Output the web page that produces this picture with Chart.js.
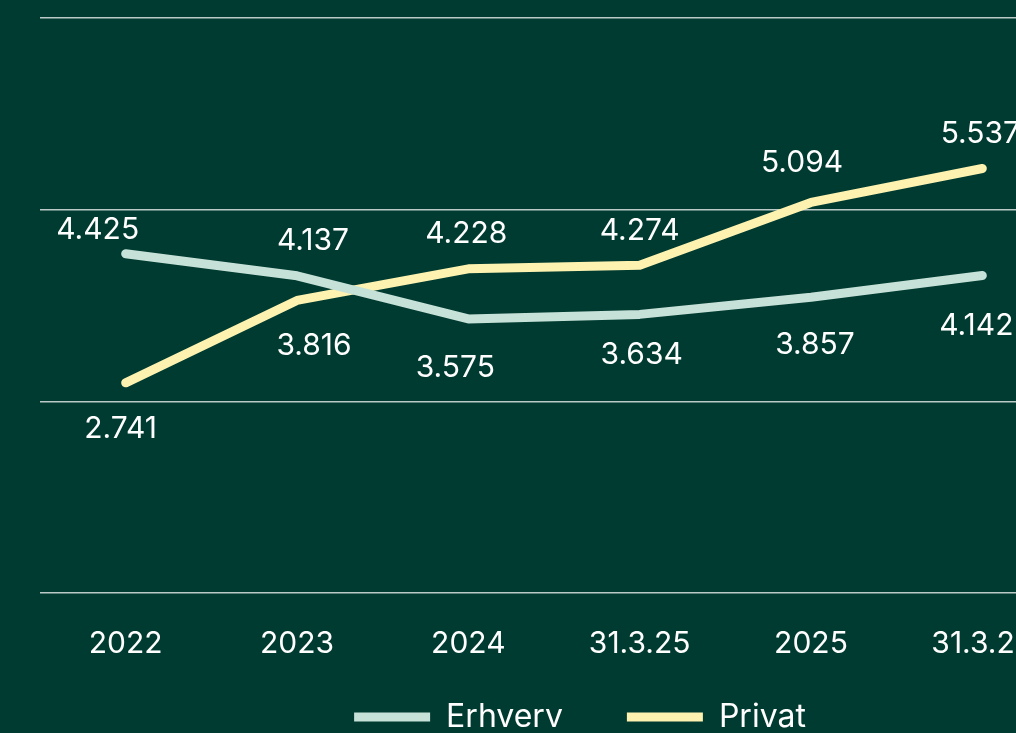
<!DOCTYPE html>
<html>
<head>
<meta charset="utf-8">
<script src="https://cdn.jsdelivr.net/npm/chart.js@4.4.1/dist/chart.umd.min.js"></script>
<style>
  html, body { margin: 0; padding: 0; background: #003b31; overflow: hidden; width: 1016px; height: 733px; }
  #wrap { position: absolute; left: 0; top: 0; width: 1160px; height: 743px; }
</style>
</head>
<body>
<div id="wrap"><canvas id="c"></canvas></div>
<script>
const categories = ['2022', '2023', '2024', '31.3.25', '2025', '31.3.26'];
const erhverv = [4.425, 4.137, 3.575, 3.634, 3.857, 4.142];
const privat  = [2.741, 3.816, 4.228, 4.274, 5.094, 5.537];
const seriesNames = ['Erhverv', 'Privat'];
const yTicks = [0, 2.5, 5, 7.5];

const FONT = 'Inter, "Noto Sans", sans-serif';
const fmt = v => v.toFixed(3);

// label nudges in pixels relative to each point (placement of value labels)
const labelNudge = [
  [[-28, -24], [16, -35], [-13, 49], [2, 41], [4, 48], [-6, 51]],
  [[-5, 46], [17, 46], [-2, -35], [0, -34], [-9, -39], [-2, -35]]
];

const labelPlugin = {
  id: 'valueLabels',
  beforeDraw(chart) {
    // let x tick labels overflow the (compact) axis box
    chart.scales.x._computeLabelArea = () => undefined;
  },
  afterDatasetsDraw(chart) {
    const ctx = chart.ctx;
    ctx.save();
    ctx.font = '30px ' + FONT;
    ctx.fillStyle = '#ffffff';
    ctx.textAlign = 'center';
    ctx.textBaseline = 'middle';
    chart.data.datasets.forEach((ds, d) => {
      const meta = chart.getDatasetMeta(d);
      ds.data.forEach((v, i) => {
        const p = meta.data[i];
        const n = labelNudge[d][i];
        ctx.fillText(fmt(v), p.x + n[0], p.y + n[1]);
      });
    });
    ctx.restore();
  }
};

new Chart(document.getElementById('c'), {
  type: 'line',
  data: {
    labels: categories,
    datasets: [
      { label: seriesNames[0], data: erhverv, borderColor: '#c6e1d7', backgroundColor: '#c6e1d7',
        borderWidth: 9, borderCapStyle: 'round', borderJoinStyle: 'round', pointRadius: 0, tension: 0 },
      { label: seriesNames[1], data: privat, borderColor: '#fdf2b0', backgroundColor: '#fdf2b0',
        borderWidth: 9, borderCapStyle: 'round', borderJoinStyle: 'round', pointRadius: 0, tension: 0 }
    ]
  },
  options: {
    responsive: true,
    maintainAspectRatio: false,
    animation: false,
    layout: { padding: { top: 18, left: 0, right: 0, bottom: 0 } },
    scales: {
      x: {
        offset: true,
        grid: { display: false },
        border: { display: false },
        ticks: { color: '#ffffff', font: { family: FONT, size: 30, lineHeight: 1.2 }, padding: 25, maxRotation: 0, autoSkip: false },
        afterFit: s => { s.height = 44; }
      },
      y: {
        position: 'left',
        min: 0, max: 7.5,
        afterBuildTicks: s => { s.ticks = yTicks.map(v => ({ value: v })); },
        grid: { color: 'rgba(220,228,224,0.85)', lineWidth: 1.5, drawTicks: false },
        border: { display: false },
        ticks: { display: false },
        afterFit: s => { s.width = 40; }
      },
      y2: {
        position: 'right',
        min: 0, max: 7.5,
        grid: { display: false },
        border: { display: false },
        ticks: { display: false },
        afterFit: s => { s.width = 92; }
      }
    },
    plugins: {
      legend: {
        position: 'bottom',
        align: 'center',
        labels: {
          color: '#ffffff',
          font: { family: FONT, size: 32 },
          usePointStyle: true,
          pointStyle: 'line',
          pointStyleWidth: 76,
          padding: 64
        }
      },
      tooltip: { enabled: false }
    }
  },
  plugins: [labelPlugin]
});
</script>
</body>
</html>
